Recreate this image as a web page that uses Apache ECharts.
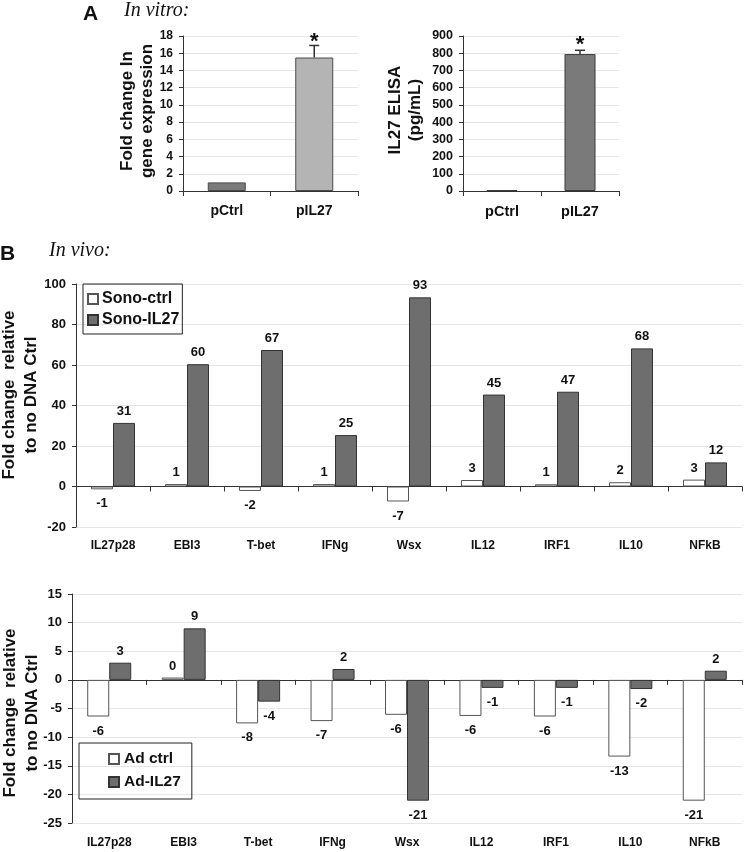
<!DOCTYPE html>
<html><head><meta charset="utf-8">
<script src="https://cdn.jsdelivr.net/npm/echarts@6/dist/echarts.min.js"></script>
<style>html,body{margin:0;padding:0;background:#fff}#c{width:745px;height:852px}</style>
</head><body><div id="c"></div>
<script>
// ---- data ----
const catsA = ['pCtrl', 'pIL27'];
const geneExpr = [1.0, 15.5];
const geneExprErr = [0, 1.4];
const elisa = [5, 795];
const elisaErr = [0, 22];
const sigA = ['', '*'];

const genes = ['IL27p28', 'EBI3', 'T-bet', 'IFNg', 'Wsx', 'IL12', 'IRF1', 'IL10', 'NFkB'];
const sonoCtrl = [-1.4, 1.2, -2.2, 1.2, -7.4, 3.2, 1.1, 2.1, 3.4];
const sonoIL27 = [31.4, 60.4, 67.4, 25.4, 93.4, 45.4, 46.8, 68.2, 11.9];
const adCtrl = [-6.4, 0.4, -7.6, -7.2, -6.1, -6.3, -6.4, -13.4, -21.1];
const adIL27 = [3.0, 9.0, -3.8, 1.9, -21.1, -1.4, -1.4, -1.6, 1.6];

// ---- styles ----
const F = '"Liberation Sans", Arial, sans-serif';
const AX = '#333';
const GRIDC = '#e6e6e6';

const chart = echarts.init(document.getElementById('c'), null, {renderer: 'canvas'});

function yAx(gi, min, max, interval, fs) {
  return {
    type: 'value', gridIndex: gi, min: min, max: max, interval: interval,
    axisLine: {show: true, onZero: false, lineStyle: {color: AX, width: 1}},
    axisTick: {show: true, length: 4, lineStyle: {color: AX}},
    axisLabel: {color: '#111', fontFamily: F, fontWeight: 'bold', fontSize: fs, margin: 10},
    splitLine: {show: true, lineStyle: {color: GRIDC, width: 1}}
  };
}
function xLabAx(gi, cats, fs, margin) {
  return {
    type: 'category', gridIndex: gi, data: cats, position: 'bottom',
    axisLine: {show: false, onZero: false},
    axisTick: {show: false},
    axisLabel: {color: '#111', fontFamily: F, fontWeight: 'bold', fontSize: fs, margin: margin},
    splitLine: {show: false}
  };
}
function xLineAx(gi, cats) {
  return {
    type: 'category', gridIndex: gi, data: cats, position: 'bottom',
    axisLine: {show: true, onZero: true, lineStyle: {color: AX, width: 1}},
    axisTick: {show: true, length: 5, lineStyle: {color: AX}},
    axisLabel: {show: false},
    splitLine: {show: false}
  };
}
function errRender(errArr, sigArr, capW, starOff) {
  return function (params, api) {
    const i = params.dataIndex;
    const v = api.value(1), e = errArr[i];
    const base = api.coord([i, v]);
    const top = api.coord([i, v + e]);
    const ch = [];
    if (e > 0) {
      ch.push({type: 'line', shape: {x1: base[0], y1: base[1], x2: top[0], y2: top[1]}, style: {stroke: '#333', lineWidth: 1.5}});
      ch.push({type: 'line', shape: {x1: top[0] - capW / 2, y1: top[1], x2: top[0] + capW / 2, y2: top[1]}, style: {stroke: '#333', lineWidth: 1.5}});
    }
    if (sigArr[i]) {
      ch.push({type: 'text', x: top[0], y: top[1] - starOff,
        style: {text: sigArr[i], font: 'bold 22px ' + F, fill: '#111', textAlign: 'center', textVerticalAlign: 'middle'}});
    }
    return {type: 'group', children: ch};
  };
}
const barLabel = {
  show: true, fontFamily: F, fontWeight: 'bold', fontSize: 13, color: '#111', distance: 5,
  formatter: p => String(Math.round(p.value))
};
function labeled(arr) {
  return arr.map(v => ({value: v, label: v < 0 ? {position: 'bottom', distance: 8} : {position: 'top', distance: 5}}));
}
const colA1 = ['#7a7a7a', '#b4b4b4'];
const colA2 = ['#7a7a7a', '#7a7a7a'];

const option = {
  animation: false,
  backgroundColor: '#fff',
  textStyle: {fontFamily: F},
  grid: [
    {left: 183, top: 36, width: 175, height: 155},
    {left: 463, top: 36, width: 156, height: 155},
    {left: 76, top: 284, width: 666, height: 243},
    {left: 72, top: 594, width: 670, height: 229}
  ],
  xAxis: [
    {type: 'category', gridIndex: 0, data: catsA, position: 'bottom',
      axisLine: {show: true, lineStyle: {color: AX}}, axisTick: {show: true, length: 5, lineStyle: {color: AX}},
      axisLabel: {color: '#111', fontFamily: F, fontWeight: 'bold', fontSize: 14, margin: 13}},
    {type: 'category', gridIndex: 1, data: catsA, position: 'bottom',
      axisLine: {show: true, lineStyle: {color: AX}}, axisTick: {show: true, length: 5, lineStyle: {color: AX}},
      axisLabel: {color: '#111', fontFamily: F, fontWeight: 'bold', fontSize: 14.5, margin: 13}},
    xLabAx(2, genes, 12, 13),
    xLineAx(2, genes),
    xLabAx(3, genes, 12, 14),
    xLineAx(3, genes)
  ],
  yAxis: [
    yAx(0, 0, 18, 2, 12),
    yAx(1, 0, 900, 100, 12.5),
    yAx(2, -20, 100, 20, 13),
    yAx(3, -25, 15, 5, 13)
  ],
  legend: [
    {data: ['Sono-ctrl', 'Sono-IL27'], orient: 'vertical', left: 83, top: 284,
      padding: [6, 3, 5, 4], itemGap: 3, itemWidth: 10, itemHeight: 10, icon: 'rect',
      borderColor: '#222', borderWidth: 1, selectedMode: false,
      textStyle: {fontFamily: F, fontWeight: 'bold', fontSize: 16, color: '#111', lineHeight: 18, padding: [0, 0, 0, -1]}},
    {data: ['Ad ctrl', 'Ad-IL27'], orient: 'vertical', left: 79, top: 743,
      padding: [7, 11, 8, 29], itemGap: 5, itemWidth: 10, itemHeight: 10, icon: 'rect',
      borderColor: '#222', borderWidth: 1, selectedMode: false,
      textStyle: {fontFamily: F, fontWeight: 'bold', fontSize: 15.5, color: '#111', lineHeight: 18}}
  ],
  series: [
    {type: 'bar', xAxisIndex: 0, yAxisIndex: 0, data: geneExpr, barWidth: 38,
      itemStyle: {color: p => colA1[p.dataIndex], borderColor: '#4a4a4a', borderWidth: 1}},
    {type: 'custom', xAxisIndex: 0, yAxisIndex: 0, z: 5,
      data: geneExpr.map((v, i) => [i, v]), renderItem: errRender(geneExprErr, sigA, 10, 4)},
    {type: 'bar', xAxisIndex: 1, yAxisIndex: 1, data: elisa, barWidth: 31,
      itemStyle: {color: p => colA2[p.dataIndex], borderColor: '#3a3a3a', borderWidth: 1}},
    {type: 'custom', xAxisIndex: 1, yAxisIndex: 1, z: 5,
      data: elisa.map((v, i) => [i, v]), renderItem: errRender(elisaErr, sigA, 10, 5)},
    {name: 'Sono-ctrl', type: 'bar', xAxisIndex: 2, yAxisIndex: 2, data: labeled(sonoCtrl),
      barWidth: 22, barGap: '0%', label: barLabel,
      itemStyle: {color: '#ffffff', borderColor: '#555', borderWidth: 1}},
    {name: 'Sono-IL27', type: 'bar', xAxisIndex: 2, yAxisIndex: 2, data: labeled(sonoIL27),
      barWidth: 22, barGap: '0%', label: barLabel,
      itemStyle: {color: '#6e6e6e', borderColor: '#333', borderWidth: 1}},
    {name: 'Ad ctrl', type: 'bar', xAxisIndex: 4, yAxisIndex: 3, data: labeled(adCtrl),
      barWidth: 22, barGap: '0%', label: barLabel,
      itemStyle: {color: '#ffffff', borderColor: '#555', borderWidth: 1}},
    {name: 'Ad-IL27', type: 'bar', xAxisIndex: 4, yAxisIndex: 3, data: labeled(adIL27),
      barWidth: 22, barGap: '0%', label: barLabel,
      itemStyle: {color: '#6e6e6e', borderColor: '#333', borderWidth: 1}}
  ],
  graphic: [
    {type: 'text', left: 83, top: 4, style: {text: 'A', font: 'bold 21px ' + F, fill: '#111'}},
    {type: 'text', left: 124, top: 1, style: {text: 'In vitro:', font: 'italic 20px "Liberation Serif", "Times New Roman", serif', fill: '#111'}},
    {type: 'text', left: 0, top: 244, style: {text: 'B', font: 'bold 21px ' + F, fill: '#111'}},
    {type: 'text', left: 49, top: 241, style: {text: 'In vivo:', font: 'italic 20px "Liberation Serif", "Times New Roman", serif', fill: '#111'}},
    {type: 'text', x: 137, y: 111, rotation: Math.PI / 2,
      style: {text: 'Fold change In\ngene expression', font: 'bold 17px ' + F, lineHeight: 20, fill: '#111', textAlign: 'center', textVerticalAlign: 'middle'}},
    {type: 'text', x: 405, y: 110, rotation: Math.PI / 2,
      style: {text: 'IL27 ELISA\n(pg/mL)', font: 'bold 17px ' + F, lineHeight: 20, fill: '#111', textAlign: 'center', textVerticalAlign: 'middle'}},
    {type: 'text', x: 20, y: 395, rotation: Math.PI / 2,
      style: {text: 'Fold change  relative\nto no DNA Ctrl', font: 'bold 17px ' + F, lineHeight: 22, fill: '#111', textAlign: 'center', textVerticalAlign: 'middle'}},
    {type: 'text', x: 21, y: 713, rotation: Math.PI / 2,
      style: {text: 'Fold change  relative\nto no DNA Ctrl', font: 'bold 17px ' + F, lineHeight: 22, fill: '#111', textAlign: 'center', textVerticalAlign: 'middle'}}
  ]
};
chart.setOption(option);
</script></body></html>
